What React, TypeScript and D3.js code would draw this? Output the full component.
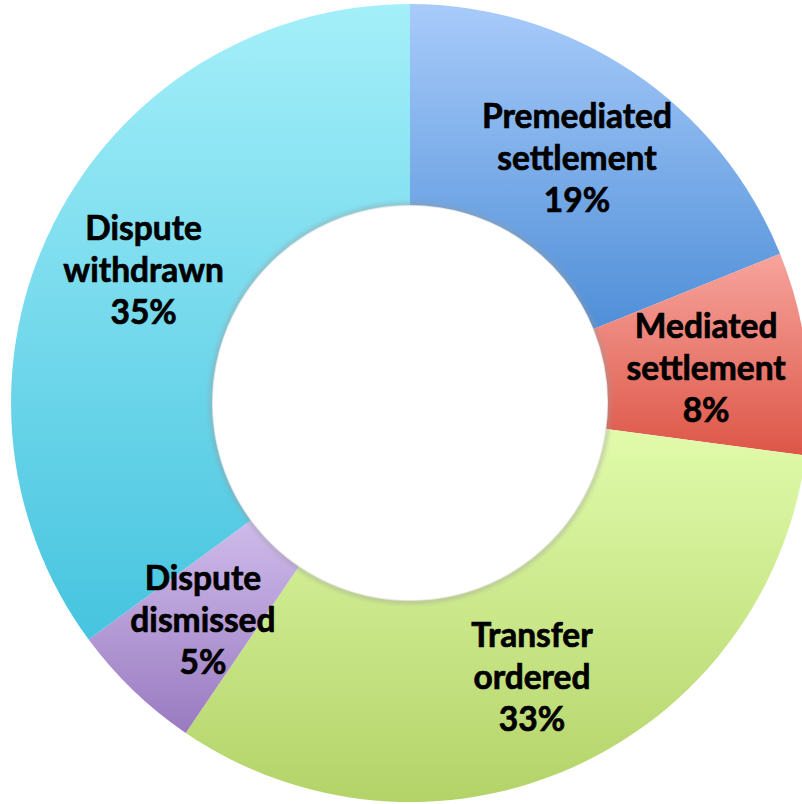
import React from "react";
import * as d3 from "d3";

const categories = [
  "Premediated settlement",
  "Mediated settlement",
  "Transfer ordered",
  "Dispute dismissed",
  "Dispute withdrawn",
];
const values = [18.9, 8.2, 32.4, 5.4, 35.1];
const percentLabels = ["19%", "8%", "33%", "5%", "35%"];
const labelLines = [
  ["Premediated", "settlement"],
  ["Mediated", "settlement"],
  ["Transfer", "ordered"],
  ["Dispute", "dismissed"],
  ["Dispute", "withdrawn"],
];
const topColors = ["#a8cbfa", "#f7a49d", "#e1fbab", "#cfbbeb", "#a4eff9"];
const bottomColors = ["#4f8fd8", "#dd5647", "#b3d368", "#997ac0", "#46c4df"];

const W = 802;
const H = 804;
const cx = 410;
const cy = 403;
const outerR = 399;
const innerR = 198;

export default function App() {
  const pie = d3
    .pie<number>()
    .sort(null)
    .value((d) => d)
    .startAngle(0)
    .endAngle(2 * Math.PI);
  const arcs = pie(values);
  const arc = d3.arc<d3.PieArcDatum<number>>().innerRadius(innerR).outerRadius(outerR);

  return (
    <svg
      width={W}
      height={H}
      style={{ position: "fixed", left: 0, top: 0, background: "#fff" }}
    >
      <defs>
        {categories.map((c, i) => (
          <linearGradient key={c} id={`g${i}`} x1="0" y1="0" x2="0" y2="1">
            <stop offset="0%" stopColor={topColors[i]} />
            <stop offset="100%" stopColor={bottomColors[i]} />
          </linearGradient>
        ))}
        <filter id="blur" x="-10%" y="-10%" width="120%" height="120%">
          <feGaussianBlur stdDeviation="2" />
        </filter>
      </defs>
      <g transform={`translate(${cx},${cy})`}>
        {arcs.map((a, i) => (
          <path key={categories[i]} d={arc(a) || ""} fill={`url(#g${i})`} />
        ))}
        <circle r={innerR + 1} fill="none" stroke="#9a9a9a" strokeWidth={3} filter="url(#blur)" opacity={0.6} />
        <circle r={innerR - 1} fill="#fff" />
        {arcs.map((a, i) => {
          const [x, y] = arc.centroid(a);
          const lines = [...labelLines[i], percentLabels[i]];
          return (
            <text
              key={`t${i}`}
              x={x}
              y={y}
              textAnchor="middle"
              fontFamily="Lato, 'Open Sans', sans-serif"
              fontWeight="bold"
              fontSize={33.5}
              fill="#000"
              stroke="#000"
              strokeWidth={0.7}
            >
              {lines.map((l, j) => (
                <tspan key={j} x={x} y={y + 2 + (j - 1) * 42} dy="0.36em">
                  {l}
                </tspan>
              ))}
            </text>
          );
        })}
      </g>
    </svg>
  );
}
